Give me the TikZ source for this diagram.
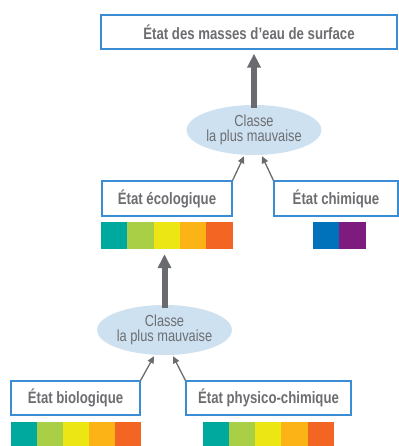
\documentclass[tikz,border=0pt]{standalone}
\usepackage{fontspec}
\setmainfont{Liberation Sans}[FakeStretch=0.8]
\usetikzlibrary{arrows.meta,shapes.geometric,calc}
\definecolor{txt}{HTML}{6D6E71}
\definecolor{bord}{HTML}{3A8DD4}
\definecolor{ellf}{HTML}{CDE1F1}
\definecolor{arr}{HTML}{6A6B6E}
\definecolor{cA}{HTML}{00A99D}
\definecolor{cB}{HTML}{A9CF46}
\definecolor{cC}{HTML}{EDE615}
\definecolor{cD}{HTML}{FBB316}
\definecolor{cE}{HTML}{F26522}
\definecolor{cF}{HTML}{0071BB}
\definecolor{cG}{HTML}{7D1C7E}
\tikzset{
  statebox/.style={draw=bord,line width=1.2pt,fill=white,rectangle,inner sep=0pt,
    text=txt,font=\fontsize{16.5}{16.5}\selectfont\bfseries},
  worst/.style={ellipse,fill=ellf,inner sep=0pt,minimum width=126pt,minimum height=50pt,
    text=txt,align=center,font=\fontsize{16}{15}\selectfont},
  barbox/.style={rectangle,inner sep=0pt,minimum height=27pt},
  bigarrow/.style={draw=arr,line width=6pt,-{Triangle[width=13pt,length=14pt]}},
  smallarrow/.style={draw=arr,line width=1.3pt,-{Triangle[width=6.5pt,length=7pt]}}
}
\begin{document}
\begin{tikzpicture}[x=1pt,y=-1pt]
\useasboundingbox (0,0) rectangle (398,446);
% nodes
\node[statebox,minimum width=296pt,minimum height=34pt] (top) at (249,32) {État des masses d’eau de surface};
\node[worst] (ell1) at (254,130) {Classe\\la plus mauvaise};
\node[statebox,minimum width=130pt,minimum height=35pt] (eco) at (167,198.5) {État écologique};
\node[statebox,minimum width=124pt,minimum height=35pt] (chem) at (336,198.5) {État chimique};
\node[barbox,minimum width=132pt] (bar1) at (167,235.5) {};
\node[barbox,minimum width=53pt] (bar2) at (339.5,235.5) {};
\node[worst,minimum width=125pt] (ell2) at (164.5,330) {Classe\\la plus mauvaise};
\node[statebox,minimum width=129pt,minimum height=34pt] (bio) at (75.5,398) {État biologique};
\node[statebox,minimum width=165pt,minimum height=34pt] (phys) at (268.5,398) {État physico-chimique};
\node[barbox,minimum width=130pt] (bar3) at (76,435.5) {};
\node[barbox,minimum width=131pt] (bar4) at (268.5,435.5) {};
% colour cells
\foreach \c [count=\i from 0] in {cA,cB,cC,cD,cE}{
  \fill[\c] ($(bar1.north west)+(\i*26.4,0)$) rectangle ++(26.4,27);
  \fill[\c] ($(bar3.north west)+(\i*26,0)$) rectangle ++(26,27);
  \fill[\c] ($(bar4.north west)+(\i*26.2,0)$) rectangle ++(26.2,27);
}
\fill[cF] (bar2.north west) rectangle ++(26.5,27);
\fill[cG] ($(bar2.north west)+(26.5,0)$) rectangle ++(26.5,27);
% connectors
\draw[bigarrow,shorten <=-3pt,shorten >=4pt] (ell1.north) -- (top.south -| ell1.north);
\draw[smallarrow] (eco.north east) -- ($(ell1.south)+(-10,1)$);
\draw[smallarrow] (chem.north west) -- ($(ell1.south)+(8,1)$);
\draw[bigarrow,shorten <=-3pt,shorten >=5pt] (ell2.north) -- (bar1.south -| ell2.north);
\draw[smallarrow] (bio.north east) -- ($(ell2.south)+(-10.5,1)$);
\draw[smallarrow] (phys.north west) -- ($(ell2.south)+(8.5,1)$);
\end{tikzpicture}
\end{document}
